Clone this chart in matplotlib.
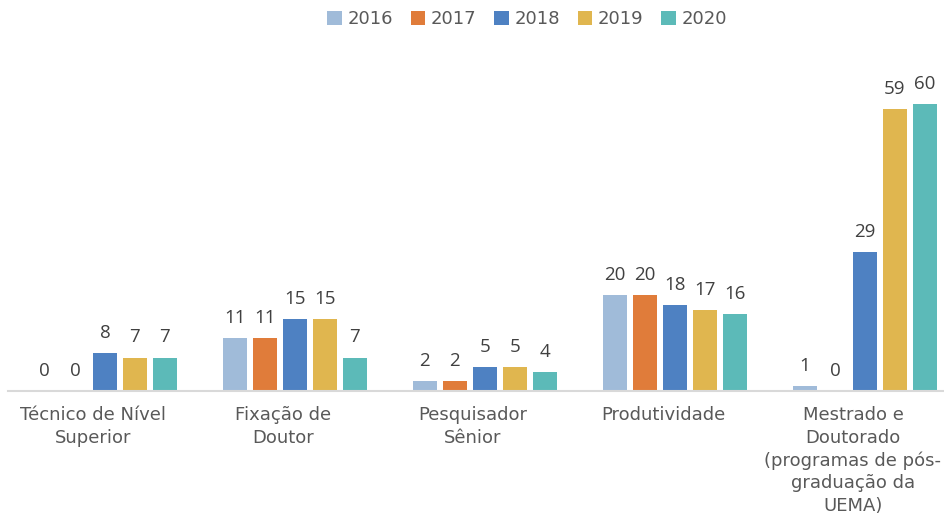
import matplotlib.pyplot as plt
import matplotlib.transforms as mtransforms
import numpy as np

categories = ['Técnico de Nível\nSuperior', 'Fixação de\nDoutor', 'Pesquisador\nSênior',
              'Produtividade', 'Mestrado e\nDoutorado\n(programas de pós-\ngraduação da\nUEMA)']
years = ['2016', '2017', '2018', '2019', '2020']
v2016 = [0, 11, 2, 20, 1]
v2017 = [0, 11, 2, 20, 0]
v2018 = [8, 15, 5, 18, 29]
v2019 = [7, 15, 5, 17, 59]
v2020 = [7, 7, 4, 16, 60]
series = [v2016, v2017, v2018, v2019, v2020]
colors = ['#a0bbd9', '#e07c3a', '#4e81c2', '#e0b64f', '#5cbab8']

fig = plt.figure(figsize=(9.44, 5.27), dpi=100)
ax = fig.add_axes([8/944, 136/527, 936/944, 335/527])

x = np.arange(len(categories))
step = 0.158  # spacing between bars in a group
width = 0.126
for i in range(len(years)):
    pos = x + (i - 2) * step
    bars = ax.bar(pos, series[i], width, color=colors[i], label=years[i], zorder=2)
    for b, v in zip(bars, series[i]):
        ax.annotate(str(v), (b.get_x() + b.get_width()/2, v), xytext=(0, 8),
                    textcoords='offset points', ha='center', va='bottom',
                    fontsize=13.5, color='#404040', family='Open Sans')

ax.set_ylim(0, 70)
ax.set_xlim(-0.51, 4.416)
ax.set_yticks([])
ax.set_xticks(x)
ax.set_xticklabels(categories, fontsize=13, color='#595959', family='DejaVu Sans',
                   linespacing=1.32, va='top')
ax.tick_params(axis='x', length=0, pad=11)
# category labels sit a bit left of the bar groups in the reference
offset = mtransforms.ScaledTranslation(-12/100, 0, fig.dpi_scale_trans)
for lbl in ax.get_xticklabels():
    lbl.set_transform(lbl.get_transform() + offset)

for s in ['top', 'right', 'left']:
    ax.spines[s].set_visible(False)
ax.spines['bottom'].set_color('#d9d9d9')
ax.spines['bottom'].set_linewidth(1.5)

leg = fig.legend(loc='center', bbox_to_anchor=(527/944, 1 - 19/527), ncol=5, frameon=False,
                 fontsize=13, handlelength=0.8, handleheight=0.8, handletextpad=0.3,
                 columnspacing=1.0)
for t in leg.get_texts():
    t.set_color('#595959')

fig.savefig('out.png', dpi=100)
